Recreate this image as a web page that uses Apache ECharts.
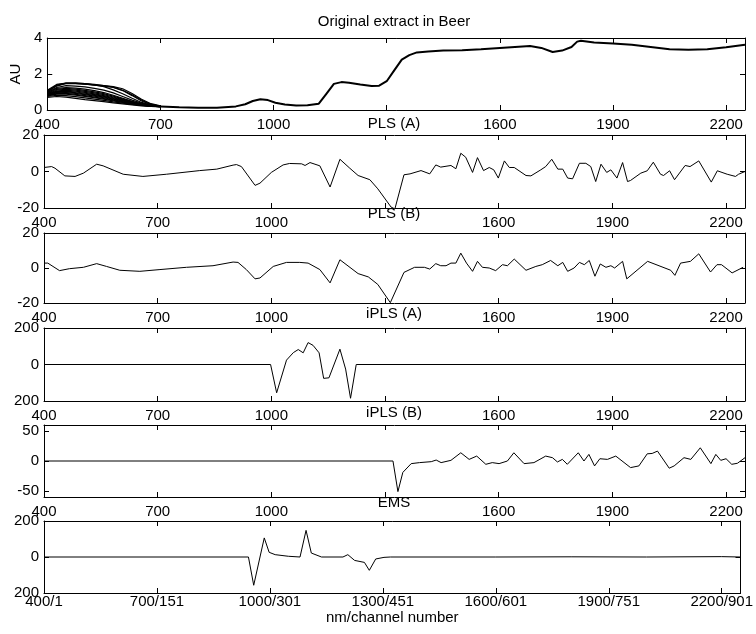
<!DOCTYPE html>
<html>
<head>
<meta charset="utf-8">
<script src="https://cdn.jsdelivr.net/npm/echarts@6/dist/echarts.min.js"></script>
<style>
  html, body { margin: 0; padding: 0; background: #fff; }
  #chart { width: 756px; height: 634px; }
</style>
</head>
<body>
<div id="chart"></div>
<script>
const FONT = '"Liberation Sans", Arial, Helvetica, sans-serif'

// x axis: nm ticks, labels on upper panels, nm/channel labels on last panel
const nmTicks = [400, 700, 1000, 1300, 1600, 1900, 2200]
const nmLabels = [400, 700, 1000, 1600, 1900, 2200]
const channelLabels = ['400/1', '700/151', '1000/301', '1300/451', '1600/601', '1900/751', '2200/901']

// raw spectra: the replicates only differ below 700 nm
const rawHeadNm = [400, 425, 450, 475, 500, 525, 550, 575, 600, 625, 650, 675, 700]
const rawHeads = [
  [1.10, 1.42, 1.50, 1.48, 1.44, 1.40, 1.35, 1.30, 1.18, 0.92, 0.60, 0.35, 0.23],
  [1.05, 1.38, 1.50, 1.50, 1.47, 1.40, 1.30, 1.12, 0.90, 0.65, 0.42, 0.28, 0.22],
  [1.02, 1.36, 1.48, 1.49, 1.46, 1.42, 1.36, 1.27, 1.10, 0.84, 0.55, 0.32, 0.22],
  [1.00, 1.33, 1.47, 1.47, 1.44, 1.38, 1.32, 1.25, 1.08, 0.80, 0.50, 0.30, 0.22],
  [0.95, 1.25, 1.35, 1.33, 1.28, 1.20, 1.10, 0.95, 0.75, 0.55, 0.38, 0.27, 0.21],
  [0.98, 1.20, 1.25, 1.22, 1.16, 1.08, 0.97, 0.82, 0.65, 0.48, 0.34, 0.25, 0.20],
  [0.92, 1.15, 1.20, 1.16, 1.09, 1.01, 0.91, 0.77, 0.62, 0.46, 0.33, 0.25, 0.20],
  [0.90, 1.10, 1.15, 1.10, 1.03, 0.95, 0.85, 0.72, 0.58, 0.44, 0.32, 0.24, 0.20],
  [0.88, 1.05, 1.10, 1.05, 0.98, 0.90, 0.80, 0.68, 0.55, 0.42, 0.31, 0.24, 0.19],
  [0.85, 1.02, 1.05, 1.00, 0.93, 0.85, 0.76, 0.64, 0.52, 0.40, 0.30, 0.23, 0.19],
  [0.84, 0.98, 1.01, 0.96, 0.89, 0.81, 0.72, 0.60, 0.50, 0.39, 0.29, 0.22, 0.19],
  [0.82, 0.95, 0.97, 0.92, 0.85, 0.77, 0.68, 0.57, 0.47, 0.37, 0.28, 0.22, 0.19],
  [0.80, 0.91, 0.92, 0.87, 0.80, 0.72, 0.64, 0.54, 0.44, 0.35, 0.27, 0.21, 0.18],
  [0.78, 0.88, 0.88, 0.83, 0.76, 0.68, 0.60, 0.51, 0.42, 0.34, 0.27, 0.21, 0.18],
  [0.75, 0.82, 0.80, 0.74, 0.67, 0.60, 0.53, 0.45, 0.38, 0.31, 0.25, 0.20, 0.18],
  [0.70, 0.75, 0.72, 0.65, 0.58, 0.52, 0.46, 0.40, 0.34, 0.28, 0.23, 0.20, 0.18],
]
const rawTailNm = [700, 750, 800, 850, 900, 925, 945, 965, 985, 1005, 1030, 1060, 1090, 1120, 1140, 1160,
  1180, 1200, 1230, 1260, 1280, 1300, 1320, 1340, 1360, 1380, 1410, 1450, 1500, 1550, 1600, 1640, 1680,
  1710, 1740, 1765, 1790, 1805, 1815, 1850, 1900, 1950, 2000, 2050, 2100, 2150, 2200, 2250]
const rawTailAu = [0.20, 0.15, 0.12, 0.13, 0.20, 0.32, 0.50, 0.60, 0.55, 0.40, 0.30, 0.25, 0.27, 0.35, 0.90, 1.45,
  1.55, 1.52, 1.42, 1.33, 1.35, 1.60, 2.20, 2.80, 3.05, 3.20, 3.25, 3.30, 3.32, 3.38, 3.45, 3.50, 3.55,
  3.45, 3.22, 3.30, 3.50, 3.80, 3.85, 3.75, 3.70, 3.62, 3.50, 3.38, 3.35, 3.38, 3.48, 3.62]

// regression vectors, [nm, value]
const plsA = [[400, 2.2], [420, 2.7], [429, 1.8], [455, -2.4], [482, -2.7], [504, -0.9], [539, 4], [556, 3.1],
  [609, -1.5], [661, -2.7], [723, -1.5], [811, 0.5], [856, 1.3], [899, 3.5], [908, 3.8], [921, 2.7], [957, -7.6],
  [970, -6.4], [1000, -0.5], [1031, 3.6], [1048, 4.4], [1080, 4.2], [1089, 3.3], [1102, 4.9], [1128, 3.1],
  [1155, -8.5], [1181, 6.7], [1207, 1.8], [1229, -2.2], [1260, -4.5], [1281, -9.5], [1316, -19.5], [1326, -20.5],
  [1350, -1.8], [1366, -1.3], [1395, 0.5], [1418, -1.3], [1434, 3.6], [1447, 2.4], [1474, 3.3], [1487, 1.5],
  [1500, 10], [1513, 7.8], [1531, -0.5], [1544, 7.6], [1560, 0.5], [1575, 2.2], [1587, 0.9], [1599, -3.6],
  [1615, 5.8], [1628, 2.2], [1641, 2.2], [1672, -2.2], [1685, -2.4], [1711, 0.9], [1724, 2.7], [1740, 6.7],
  [1756, 1.3], [1769, 1.3], [1782, -3.6], [1795, -4], [1813, 4.5], [1830, 4.5], [1843, 2.7], [1856, -5.5],
  [1870, 4], [1885, -0.5], [1896, 0.9], [1912, -3.6], [1927, 4.9], [1940, -5.5], [1948, -4.9], [1975, -0.9],
  [1992, 0.4], [2008, 5.1], [2027, -1.5], [2035, -2.2], [2051, 0.4], [2064, -4.5], [2092, 3.3], [2105, 2.7],
  [2128, 5.8], [2161, -5.8], [2177, 0.4], [2203, -1.5], [2225, -2.7], [2233, -1.5], [2250, 0]]

const plsB = [[400, 2.8], [410, 2.8], [441, -1.5], [467, -0.4], [504, 0.4], [539, 2.5], [565, 0.9], [600, -1.3],
  [653, -1.9], [706, -0.9], [776, 0.4], [846, 1.3], [899, 3.4], [912, 3.2], [934, -0.9], [957, -6.2], [970, -5.7],
  [1005, 0.9], [1040, 3.2], [1075, 3.2], [1097, 2.8], [1128, -0.9], [1155, -8.5], [1181, 4.7], [1229, -3.2],
  [1256, -5.1], [1281, -9.4], [1314, -19.8], [1350, -2.5], [1378, 0.4], [1404, 0.4], [1418, -0.6], [1434, 2.5],
  [1447, 1.3], [1461, 1.3], [1474, 2.8], [1487, 2.8], [1500, 8.5], [1515, 2.8], [1531, -1.9], [1544, 3.8],
  [1557, 0.4], [1575, 0], [1592, -1.5], [1610, 1.9], [1623, 1.3], [1641, 5.1], [1672, -1.3], [1698, 0.9],
  [1715, 1.9], [1737, 4.3], [1756, 1.3], [1769, 3.2], [1782, -1.9], [1799, 0], [1813, 3.2], [1826, 1.9],
  [1839, 4.3], [1854, -4.7], [1868, 2.3], [1883, 0.4], [1896, 1.3], [1906, 0], [1927, 3.8], [1938, -6.2],
  [1993, 3.8], [2054, -1.3], [2065, -4.2], [2080, 2.8], [2106, 3.8], [2128, 8.1], [2159, -2.3], [2176, 1.9],
  [2188, 1.9], [2216, -2.8], [2245, 0.4]]

const iplsA = [[400, 0], [998, 0], [1014, -155], [1040, 24], [1058, 65], [1071, 82], [1084, 64], [1097, 120],
  [1110, 105], [1126, 64], [1138, -76], [1152, -73], [1181, 84], [1196, -25], [1209, -185], [1224, 0], [2250, 0]]

const iplsB = [[400, 0], [1321, 0], [1334, -51], [1347, -19], [1369, -4.4], [1391, -2.7], [1422, -1.1],
  [1435, 1.6], [1448, -2.7], [1474, 1.1], [1500, 13.7], [1522, 2.7], [1542, 8.2], [1566, -5.5], [1583, -2.7],
  [1601, -4.4], [1623, 0], [1640, 13.7], [1667, -4.4], [1693, -2.7], [1724, 8.2], [1742, 5.5], [1755, -1.6],
  [1768, 2.7], [1781, -5.5], [1810, 13.7], [1825, 0], [1838, 11], [1853, -8.2], [1867, 3.8], [1887, 2.7],
  [1909, 8.2], [1948, -11], [1970, -8.2], [1992, 12], [2005, 12.6], [2019, 16.5], [2050, -12], [2063, -8.2],
  [2089, 5.5], [2107, 2.7], [2132, 22], [2160, -4.4], [2173, 11], [2186, 1.1], [2200, 3.8], [2215, -5.5],
  [2230, -3.8], [2250, 5.5]]

const ems = [[400, 0], [943, 0], [957, -157], [985, 106], [998, 26], [1014, 13], [1049, 4], [1080, 0],
  [1096, 148], [1110, 22], [1137, 0], [1194, 0], [1207, 13], [1225, -19], [1251, -30], [1264, -74],
  [1281, -11], [1303, -2], [1320, 0], [1600, 0], [1800, 1], [2000, 0], [2200, 2], [2250, 0]]

// panel titles and y scales
const panelTitles = ['Original extract in Beer', 'PLS (A)', 'PLS (B)', 'iPLS (A)', 'iPLS (B)', 'EMS']
const yRanges = [[0, 4], [-20, 20], [-20, 20], [-200, 200], [-60, 60], [-200, 200]]
const yTicks = [[0, 2, 4], [-20, 0, 20], [-20, 0, 20], [-200, 0, 200], [-50, 0, 50], [-200, 0, 200]]

// layout
const gridBoxes = [
  { top: 38, height: 72 },
  { top: 135, height: 73 },
  { top: 233, height: 70 },
  { top: 328, height: 73 },
  { top: 425, height: 72 },
  { top: 521, height: 72 },
]
const titleTops = [14, 116, 206, 306, 405, 495]

const black = { color: '#000', width: 1 }
const grid = []
const xAxis = []
const yAxis = []
const series = []
const graphic = []

gridBoxes.forEach((box, i) => {
  const last = i === gridBoxes.length - 1
  grid.push({ left: 44, right: 11, top: box.top, height: box.height })

  const xBase = {
    gridIndex: i,
    type: 'value',
    min: 400,
    max: 2250,
    axisLine: { onZero: false, lineStyle: black },
    axisTick: { inside: true, length: 5, customValues: nmTicks, lineStyle: black },
    splitLine: { show: false },
  }
  xAxis.push({
    ...xBase,
    position: 'bottom',
    axisLabel: {
      customValues: last ? nmTicks : nmLabels,
      formatter: (v) => (last ? channelLabels[nmTicks.indexOf(v)] : String(v)),
      margin: last ? 1 : 7,
      fontSize: 15,
      fontFamily: FONT,
      color: '#000',
    },
    name: last ? 'nm/channel number' : '',
    nameLocation: 'middle',
    nameGap: 17,
    nameTextStyle: { fontSize: 15, fontFamily: FONT, color: '#000' },
  })
  xAxis.push({ ...xBase, position: 'top', axisLabel: { show: false } })

  const yBase = {
    gridIndex: i,
    type: 'value',
    min: yRanges[i][0],
    max: yRanges[i][1],
    axisLine: { onZero: false, lineStyle: black },
    axisTick: { inside: true, length: 5, customValues: yTicks[i], lineStyle: black },
    splitLine: { show: false },
  }
  yAxis.push({
    ...yBase,
    position: 'left',
    axisLabel: {
      customValues: yTicks[i],
      // the +-200 scales print their lower label without a sign
      formatter: (v) => (yRanges[i][1] === 200 ? String(Math.abs(v)) : String(v)),
      margin: 5,
      fontSize: 15,
      fontFamily: FONT,
      color: '#000',
    },
    name: i === 0 ? 'AU' : '',
    nameLocation: 'middle',
    nameGap: 18,
    nameRotate: 90,
    nameTextStyle: { fontSize: 15, fontFamily: FONT, color: '#000' },
  })
  yAxis.push({ ...yBase, position: 'right', axisLabel: { show: false } })

  graphic.push({
    type: 'text',
    x: 394,
    y: titleTops[i],
    silent: true,
    style: {
      text: panelTitles[i],
      fontSize: 15,
      fontFamily: FONT,
      fill: '#000',
      align: 'center',
      verticalAlign: 'top',
      textAlign: 'center',
      textVerticalAlign: 'top',
    },
  })
})

const lineSeries = (panel, data, width) => ({
  type: 'line',
  xAxisIndex: panel * 2,
  yAxisIndex: panel * 2,
  data,
  showSymbol: false,
  symbol: 'none',
  silent: true,
  lineStyle: { color: '#000', width },
})

rawHeads.forEach((head) => {
  series.push(lineSeries(0, rawHeadNm.map((nm, k) => [nm, head[k]]), 1.2))
})
series.push(lineSeries(0, rawTailNm.map((nm, k) => [nm, rawTailAu[k]]), 2))
series.push(lineSeries(1, plsA, 1))
series.push(lineSeries(2, plsB, 1))
series.push(lineSeries(3, iplsA, 1))
series.push(lineSeries(4, iplsB, 1))
series.push(lineSeries(5, ems, 1))

const chart = echarts.init(document.getElementById('chart'))
chart.setOption({
  animation: false,
  backgroundColor: '#fff',
  textStyle: { fontFamily: FONT },
  grid,
  xAxis,
  yAxis,
  series,
  graphic,
})
</script>
</body>
</html>
